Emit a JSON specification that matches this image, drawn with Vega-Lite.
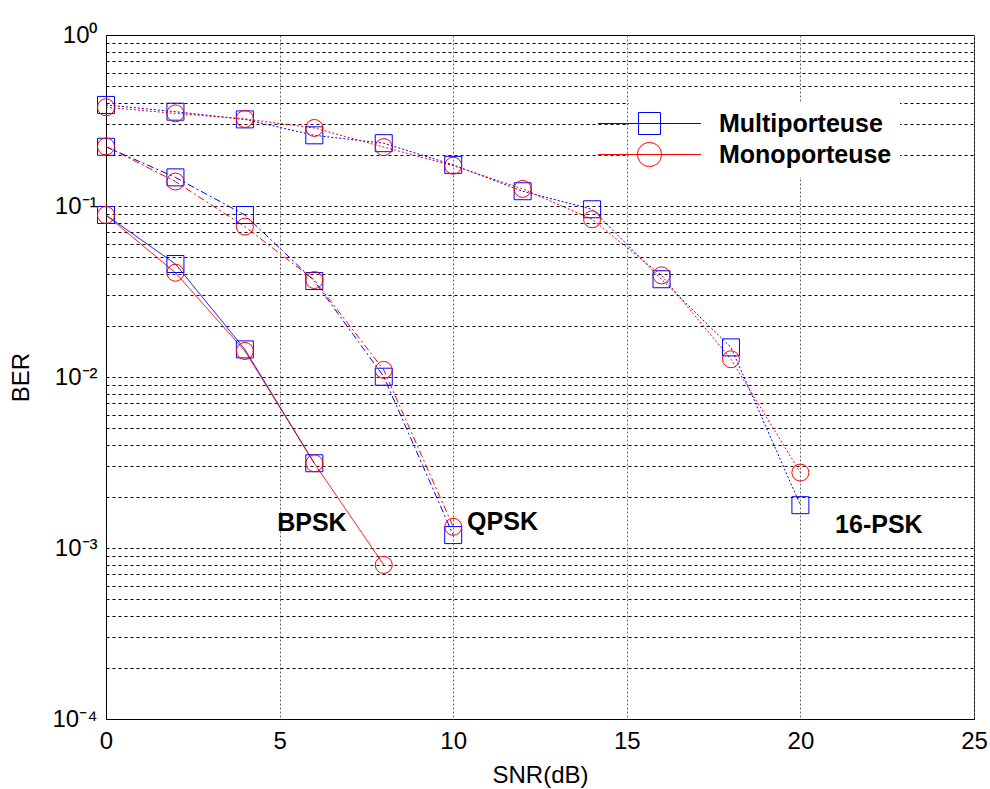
{
  "$schema": "https://vega.github.io/schema/vega-lite/v6.json",
  "autosize": {"type": "none"},
  "width": 868,
  "height": 684,
  "padding": {"left": 106, "top": 35, "right": 16, "bottom": 70},
  "background": "white",
  "config": {
    "view": {"stroke": "black", "strokeWidth": 1},
    "font": "Liberation Sans",
    "axis": {"domainColor": "black", "domainWidth": 1, "labelFont": "Liberation Sans", "titleFont": "Liberation Sans", "labelColor": "black", "titleColor": "black", "titleFontWeight": "normal"}
  },
  "datasets": {
    "ber": [
      {"mod": "16-PSK", "method": "Multiporteuse", "snr": 0, "ber": 0.39},
      {"mod": "16-PSK", "method": "Multiporteuse", "snr": 2, "ber": 0.356},
      {"mod": "16-PSK", "method": "Multiporteuse", "snr": 4, "ber": 0.321},
      {"mod": "16-PSK", "method": "Multiporteuse", "snr": 6, "ber": 0.259},
      {"mod": "16-PSK", "method": "Multiporteuse", "snr": 8, "ber": 0.233},
      {"mod": "16-PSK", "method": "Multiporteuse", "snr": 10, "ber": 0.174},
      {"mod": "16-PSK", "method": "Multiporteuse", "snr": 12, "ber": 0.122},
      {"mod": "16-PSK", "method": "Multiporteuse", "snr": 14, "ber": 0.0957},
      {"mod": "16-PSK", "method": "Multiporteuse", "snr": 16, "ber": 0.0373},
      {"mod": "16-PSK", "method": "Multiporteuse", "snr": 18, "ber": 0.0149},
      {"mod": "16-PSK", "method": "Multiporteuse", "snr": 20, "ber": 0.00178},
      {"mod": "QPSK", "method": "Multiporteuse", "snr": 0, "ber": 0.222},
      {"mod": "QPSK", "method": "Multiporteuse", "snr": 2, "ber": 0.147},
      {"mod": "QPSK", "method": "Multiporteuse", "snr": 4, "ber": 0.0886},
      {"mod": "QPSK", "method": "Multiporteuse", "snr": 6, "ber": 0.0364},
      {"mod": "QPSK", "method": "Multiporteuse", "snr": 8, "ber": 0.01004},
      {"mod": "QPSK", "method": "Multiporteuse", "snr": 10, "ber": 0.00119},
      {"mod": "BPSK", "method": "Multiporteuse", "snr": 0, "ber": 0.0886},
      {"mod": "BPSK", "method": "Multiporteuse", "snr": 2, "ber": 0.0458},
      {"mod": "BPSK", "method": "Multiporteuse", "snr": 4, "ber": 0.0145},
      {"mod": "BPSK", "method": "Multiporteuse", "snr": 6, "ber": 0.00313},
      {"mod": "16-PSK", "method": "Monoporteuse", "snr": 0, "ber": 0.378},
      {"mod": "16-PSK", "method": "Monoporteuse", "snr": 2, "ber": 0.348},
      {"mod": "16-PSK", "method": "Monoporteuse", "snr": 4, "ber": 0.323},
      {"mod": "16-PSK", "method": "Monoporteuse", "snr": 6, "ber": 0.286},
      {"mod": "16-PSK", "method": "Monoporteuse", "snr": 8, "ber": 0.221},
      {"mod": "16-PSK", "method": "Monoporteuse", "snr": 10, "ber": 0.172},
      {"mod": "16-PSK", "method": "Monoporteuse", "snr": 12, "ber": 0.126},
      {"mod": "16-PSK", "method": "Monoporteuse", "snr": 14, "ber": 0.0836},
      {"mod": "16-PSK", "method": "Monoporteuse", "snr": 16, "ber": 0.0393},
      {"mod": "16-PSK", "method": "Monoporteuse", "snr": 18, "ber": 0.0127},
      {"mod": "16-PSK", "method": "Monoporteuse", "snr": 20, "ber": 0.00276},
      {"mod": "QPSK", "method": "Monoporteuse", "snr": 0, "ber": 0.223},
      {"mod": "QPSK", "method": "Monoporteuse", "snr": 2, "ber": 0.139},
      {"mod": "QPSK", "method": "Monoporteuse", "snr": 4, "ber": 0.0757},
      {"mod": "QPSK", "method": "Monoporteuse", "snr": 6, "ber": 0.0369},
      {"mod": "QPSK", "method": "Monoporteuse", "snr": 8, "ber": 0.011},
      {"mod": "QPSK", "method": "Monoporteuse", "snr": 10, "ber": 0.00133},
      {"mod": "BPSK", "method": "Monoporteuse", "snr": 0, "ber": 0.0886},
      {"mod": "BPSK", "method": "Monoporteuse", "snr": 2, "ber": 0.0407},
      {"mod": "BPSK", "method": "Monoporteuse", "snr": 4, "ber": 0.0142},
      {"mod": "BPSK", "method": "Monoporteuse", "snr": 6, "ber": 0.00313},
      {"mod": "BPSK", "method": "Monoporteuse", "snr": 8, "ber": 0.000796}
    ],
    "labels": [
      {"label": "BPSK", "snr": 4.93, "ber": 0.0014},
      {"label": "QPSK", "snr": 10.4, "ber": 0.00141},
      {"label": "16-PSK", "snr": 21.0, "ber": 0.00136}
    ]
  },
  "encoding": {
    "x": {
      "field": "snr", "type": "quantitative",
      "scale": {"domain": [0, 25], "nice": false, "zero": false},
      "axis": {
        "title": "SNR(dB)", "titleFontSize": 24, "titlePadding": 10,
        "values": [0, 5, 10, 15, 20, 25], "labelFontSize": 24, "labelPadding": 10,
        "labelFlush": false, "ticks": false, "tickSize": 0,
        "grid": true, "gridColor": "#666666", "gridDash": [2, 2], "gridWidth": 1
      }
    },
    "y": {
      "field": "ber", "type": "quantitative",
      "scale": {"type": "log", "domain": [0.0001, 1], "nice": false},
      "axis": {
        "title": "BER", "titleFontSize": 24, "titlePadding": 18,
        "values": [0.0001, 0.0002, 0.0003, 0.0004, 0.0005, 0.0006, 0.0007, 0.0008, 0.0009, 0.001, 0.002, 0.003, 0.004, 0.005, 0.006, 0.007, 0.008, 0.009, 0.01, 0.02, 0.03, 0.04, 0.05, 0.06, 0.07, 0.08, 0.09, 0.1, 0.2, 0.3, 0.4, 0.5, 0.6, 0.7, 0.8, 0.9, 1],
        "labelExpr": "datum.value == 1 ? '10⁰' : datum.value == 0.1 ? '10⁻¹' : datum.value == 0.01 ? '10⁻²' : datum.value == 0.001 ? '10⁻³' : datum.value == 0.0001 ? '10⁻⁴' : ''",
        "labelFontSize": 24, "labelPadding": 9, "labelOverlap": false, "labelFlush": false,
        "ticks": false, "tickSize": 0,
        "grid": true, "gridColor": "black", "gridDash": [3, 3], "gridWidth": 1
      }
    }
  },
  "layer": [
    {
      "data": {"name": "ber"},
      "mark": {"type": "line", "strokeWidth": 1},
      "encoding": {
        "color": {"field": "method", "type": "nominal", "scale": {"domain": ["Multiporteuse", "Monoporteuse"], "range": ["#0000ff", "#ff0000"]}},
        "strokeDash": {"field": "mod", "type": "nominal", "scale": {"domain": ["BPSK", "QPSK", "16-PSK"], "range": [[1, 0], [7, 3, 2, 3], [2, 2]]}, "legend": null},
        "detail": {"field": "method"}
      }
    },
    {
      "data": {"name": "ber"},
      "mark": {"type": "point", "filled": false, "size": 289, "strokeWidth": 1, "opacity": 0},
      "encoding": {
        "color": {
          "field": "method", "type": "nominal",
          "scale": {"domain": ["Multiporteuse", "Monoporteuse"], "range": ["#0000ff", "#ff0000"]},
          "legend": {
            "orient": "none", "legendX": 523, "legendY": 68, "title": null,
            "symbolSize": 484, "symbolStrokeWidth": 1, "symbolOpacity": 1, "labelOffset": 57,
            "labelFont": "Liberation Sans", "labelFontSize": 25, "labelFontWeight": "bold", "labelColor": "black", "labelLimit": 400,
            "rowPadding": 3, "padding": 8, "fillColor": "white"
          }
        },
        "shape": {
          "field": "method", "type": "nominal",
          "scale": {"domain": ["Multiporteuse", "Monoporteuse"], "range": ["M-4.68,0H4.68M-1,-1H1V1H-1Z", "M-4.68,0H4.68M1.09,0A1.09,1.09,0,1,1,-1.09,0A1.09,1.09,0,1,1,1.09,0Z"]},
          "legend": null
        }
      }
    },
    {
      "data": {"name": "ber"},
      "transform": [{"filter": "datum.method === 'Multiporteuse'"}],
      "mark": {"type": "point", "shape": "square", "filled": false, "size": 289, "strokeWidth": 1, "opacity": 1},
      "encoding": {
        "color": {"field": "method", "type": "nominal", "scale": {"domain": ["Multiporteuse", "Monoporteuse"], "range": ["#0000ff", "#ff0000"]}}
      }
    },
    {
      "data": {"name": "ber"},
      "transform": [{"filter": "datum.method === 'Monoporteuse'"}],
      "mark": {"type": "point", "shape": "circle", "filled": false, "size": 289, "strokeWidth": 1, "opacity": 1},
      "encoding": {
        "color": {"field": "method", "type": "nominal", "scale": {"domain": ["Multiporteuse", "Monoporteuse"], "range": ["#0000ff", "#ff0000"]}}
      }
    },
    {
      "data": {"name": "labels"},
      "mark": {"type": "text", "align": "left", "baseline": "middle", "font": "Liberation Sans", "fontSize": 25, "fontWeight": "bold", "color": "black"},
      "encoding": {
        "text": {"field": "label"}
      }
    }
  ]
}
